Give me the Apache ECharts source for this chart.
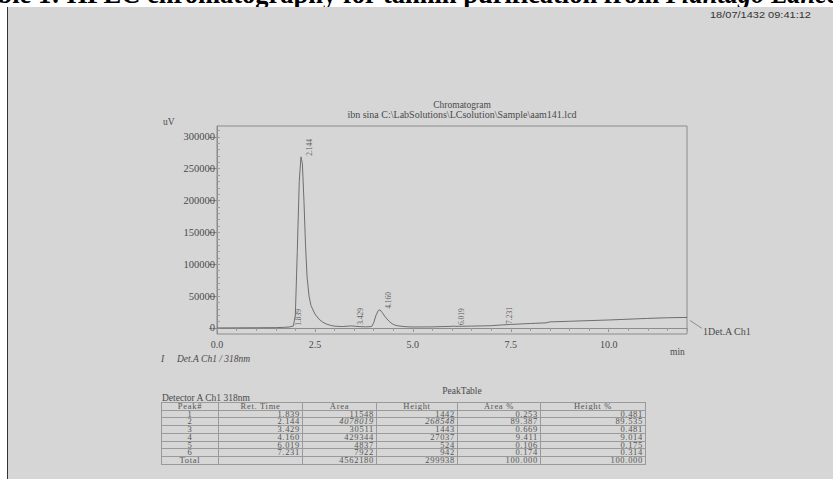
<!DOCTYPE html>
<html>
<head>
<meta charset="utf-8">
<script src="https://cdn.jsdelivr.net/npm/echarts@6/dist/echarts.min.js"></script>
<style>
    html, body { margin: 0; padding: 0; background: #fff; }
    #page { position: relative; width: 833px; height: 479px; overflow: hidden; background: #fff; }
    #sheet { position: absolute; left: 7px; top: 7px; width: 826px; height: 472px; background: #d6d6d6; border-left: 1px solid #333; }
    #chart { position: absolute; left: 0; top: 0; width: 833px; height: 479px; }
    #caption { position: absolute; left: -31px; top: -19px; white-space: nowrap; font: bold 26.5px/26.5px "Liberation Serif", serif; color: #000; }
    #stamp { position: absolute; left: 710px; top: 9px; font: 11px "Liberation Sans", sans-serif; color: #333; white-space: nowrap; transform: scaleY(0.85); transform-origin: left top; }
    #peaktable { position: absolute; left: 161px; top: 402px; border-collapse: collapse; font: 8.5px "Liberation Serif", serif; color: #555; letter-spacing: 0.7px; }
    #peaktable td { border: 1px solid #9a9a9a; height: 6.7px; line-height: 6.7px; padding: 0 2px; text-align: right; overflow: hidden; }
    #peaktable tr:first-child td { text-align: center; }
    #peaktable td:first-child { text-align: center; }
</style>
</head>
<body>
<div id="page">
    <div id="caption">Table 1: HPLC chromatography for tannin purification from <i>Plantago Lanceolata</i></div>
    <div id="sheet"></div>
    <div id="stamp">18/07/1432 09:41:12</div>
    <div id="chart"></div>
    <table id="peaktable"></table>
</div>
<script>
// trace (min, uV)
const rtMin = [0.0, 0.5, 1.0, 1.5, 1.7, 1.839, 1.95, 2.0, 2.05, 2.1, 2.144, 2.18, 2.22, 2.26, 2.3, 2.35, 2.4, 2.5, 2.6, 2.7, 2.8, 2.9, 3.0, 3.2, 3.429, 3.6, 3.8, 3.95, 4.0, 4.06, 4.12, 4.16, 4.22, 4.3, 4.4, 4.5, 4.6, 4.8, 5.0, 5.5, 6.0, 6.019, 6.1, 6.5, 7.0, 7.231, 7.5, 8.0, 8.4, 8.5, 9.0, 10.0, 11.0, 11.5, 12.0];
const signalUv = [0, 200, 300, 500, 900, 1442, 3000, 20000, 120000, 230000, 268548, 258000, 200000, 130000, 80000, 50000, 35000, 22000, 14000, 9000, 6000, 4000, 2800, 2200, 3200, 2200, 1700, 2200, 8000, 20000, 27500, 28500, 24000, 17000, 10000, 5500, 3500, 2000, 1500, 1700, 2500, 2900, 2500, 2900, 3500, 4600, 5500, 7000, 8000, 9500, 10500, 12500, 15000, 16000, 16500];

const peakRet = [1.839, 2.144, 3.429, 4.160, 6.019, 7.231];
const peakTop = [1800, 268548, 3300, 28500, 3000, 4800];

const yTicks = [0, 50000, 100000, 150000, 200000, 250000, 300000];
const xTicks = [0, 2.5, 5, 7.5, 10];

// peak table
const tableHead = ['Peak#', 'Ret. Time', 'Area', 'Height', 'Area %', 'Height %'];
const peakNo = ['1', '2', '3', '4', '5', '6', 'Total'];
const retTimes = ['1.839', '2.144', '3.429', '4.160', '6.019', '7.231', ''];
const areas = ['11548', '4078019', '30511', '429344', '4837', '7922', '4562180'];
const heights = ['1442', '268548', '1443', '27037', '524', '942', '299938'];
const areaPct = ['0.253', '89.387', '0.669', '9.411', '0.106', '0.174', '100.000'];
const heightPct = ['0.481', '89.535', '0.481', '9.014', '0.175', '0.314', '100.000'];
const colWidths = [52, 79, 69, 76, 78, 100];

const range = (a, b, s) => { const r = []; for (let v = a; v <= b + 1e-9; v += s) r.push(+v.toFixed(3)); return r; };

const table = document.getElementById('peaktable');
let html = '<tr>' + tableHead.map((h, i) => `<td style="width:${colWidths[i]}px">${h}</td>`).join('') + '</tr>';
peakNo.forEach((p, i) => {
    const it = i === 1 ? ' style="font-style:italic"' : '';
    html += `<tr><td>${p}</td><td>${retTimes[i]}</td><td${it}>${areas[i]}</td><td${it}>${heights[i]}</td><td>${areaPct[i]}</td><td>${heightPct[i]}</td></tr>`;
});
table.innerHTML = html;

const chart = echarts.init(document.getElementById('chart'), null, { renderer: 'svg' });
const txt = '#4a4a4a';
const serif = '"Liberation Serif", serif';

const option = {
    animation: false,
    grid: { left: 217, top: 126, right: 146, bottom: 145, show: true, borderColor: '#8c8c8c', borderWidth: 1 },
    xAxis: [
        {
            type: 'value', min: 0, max: 12,
            axisLine: { lineStyle: { color: '#8c8c8c' } },
            splitLine: { show: false },
            axisTick: { customValues: xTicks, length: 4, lineStyle: { color: '#8c8c8c' } },
            axisLabel: { customValues: xTicks, formatter: v => v.toFixed(1), color: txt, fontFamily: serif, fontSize: 10, margin: 5 }
        },
        {
            type: 'value', min: 0, max: 12, position: 'bottom',
            axisLine: { show: false }, splitLine: { show: false },
            axisTick: { customValues: range(0, 12, 0.5), length: 3, lineStyle: { color: '#9a9a9a' } },
            axisLabel: { show: false }
        }
    ],
    yAxis: [
        {
            type: 'value', min: -9500, max: 317000,
            axisLine: { show: true, lineStyle: { color: '#8c8c8c' } },
            splitLine: { show: false },
            axisTick: { customValues: yTicks, length: 8, lineStyle: { color: '#8c8c8c' } },
            axisLabel: { customValues: yTicks, formatter: v => String(v), color: txt, fontFamily: serif, fontSize: 10.5, margin: 2 }
        },
        {
            type: 'value', min: -9500, max: 317000, position: 'left',
            axisLine: { show: false }, splitLine: { show: false },
            axisTick: { inside: true, customValues: range(0, 310000, 10000), length: 3, lineStyle: { color: '#a0a0a0' } },
            axisLabel: { show: false }
        }
    ],
    series: [
        {
            type: 'line',
            data: rtMin.map((t, i) => [t, signalUv[i]]),
            symbol: 'none',
            lineStyle: { color: '#6e6e6e', width: 1 },
            silent: true
        },
        {
            type: 'scatter',
            data: peakRet.map((t, i) => [t, peakTop[i]]),
            symbolSize: 0,
            label: {
                show: true,
                formatter: p => p.value[0].toFixed(3),
                position: 'inside',
                offset: [1, 9],
                rotate: 90,
                align: 'left',
                verticalAlign: 'middle',
                color: '#3c3c3c',
                fontFamily: serif,
                fontSize: 7.5
            }
        }
    ],
    graphic: [
        { type: 'text', x: 462, y: 100, style: { text: 'Chromatogram', fill: txt, font: '9.5px ' + serif, textAlign: 'center' } },
        { type: 'text', x: 462, y: 109, style: { text: 'ibn sina C:\\LabSolutions\\LCsolution\\Sample\\aam141.lcd', fill: txt, font: '10px ' + serif, textAlign: 'center' } },
        { type: 'text', x: 163, y: 117, style: { text: 'uV', fill: txt, font: '9.5px ' + serif } },
        { type: 'text', x: 670, y: 347, style: { text: 'min', fill: txt, font: '9.5px ' + serif } },
        { type: 'text', x: 161, y: 354, style: { text: 'I', fill: txt, font: 'italic 9.5px ' + serif } },
        { type: 'text', x: 177, y: 354, style: { text: 'Det.A Ch1 / 318nm', fill: txt, font: 'italic 9.5px ' + serif } },
        { type: 'text', x: 462, y: 386, style: { text: 'PeakTable', fill: txt, font: '9.5px ' + serif, textAlign: 'center' } },
        { type: 'text', x: 162, y: 393, style: { text: 'Detector A Ch1 318nm', fill: txt, font: '9.5px ' + serif } }
    ]
};
chart.setOption(option);

// end-of-trace legend with its leader line
const end = chart.convertToPixel({ gridIndex: 0 }, [rtMin[rtMin.length - 1], signalUv[signalUv.length - 1]]);
const g = option.graphic.slice();
g.push({ type: 'polyline', shape: { points: [[end[0] + 3, end[1] + 3], [end[0] + 15, end[1] + 11]] }, style: { stroke: '#8c8c8c', lineWidth: 1 } });
g.push({ type: 'text', x: end[0] + 16, y: end[1] + 9, style: { text: '1Det.A Ch1', fill: txt, font: '10px ' + serif } });
chart.setOption({ graphic: g });
</script>
</body>
</html>
